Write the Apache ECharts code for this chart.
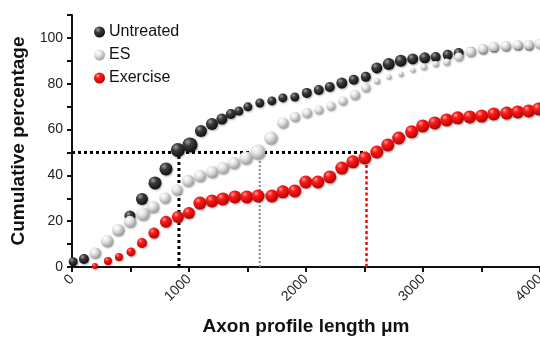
<!DOCTYPE html>
<html>
<head>
<meta charset="utf-8">
<script src="https://cdn.jsdelivr.net/npm/echarts@6/dist/echarts.min.js"></script>
<style>html,body{margin:0;padding:0;background:#fff;overflow:hidden}#c{width:540px;height:337px}</style>
</head>
<body>
<div id="c"></div>
<script>
// ---- data ----
const untreatedX = [10, 102, 200, 300, 400, 495, 598, 709, 803, 905, 1008, 1102, 1196, 1281, 1358, 1426, 1503, 1605, 1708, 1802, 1904, 2007, 2109, 2203, 2306, 2408, 2511, 2605, 2707, 2810, 2912, 3015, 3108, 3211, 3305, 3407, 3510, 3604, 3706, 3809, 3903];
const untreatedY = [2.3, 3.5, 6.5, 11.5, 16.5, 22.3, 29.7, 36.7, 42.8, 51.1, 53.3, 59.4, 62.4, 64.6, 66.8, 68.1, 69.9, 71.6, 72.5, 73.8, 74.2, 76.0, 77.3, 78.6, 80.3, 81.7, 83.0, 86.9, 88.6, 90.0, 90.8, 91.3, 91.7, 92.6, 93.4, 94.3, 94.8, 95.6, 96.1, 96.5, 96.5];
const untreatedN = [9, 10, 8, 8, 8, 11, 12, 13, 13, 14, 15, 12, 12, 11, 10, 9, 9, 9, 9, 9, 9, 10, 10, 10, 11, 10, 10, 11, 12, 12, 11, 11, 10, 10, 10, 8, 8, 8, 8, 8, 8];

const esX = [196, 299, 393, 495, 606, 692, 794, 897, 991, 1093, 1196, 1289, 1383, 1486, 1588, 1699, 1802, 1904, 2007, 2109, 2212, 2314, 2417, 2511, 2605, 2707, 2810, 2912, 3006, 3108, 3202, 3305, 3407, 3510, 3604, 3706, 3809, 3903, 3997];
const esY = [6.1, 11.4, 16.2, 19.7, 23.1, 26.2, 30.1, 33.6, 37.6, 39.7, 41.5, 43.2, 45.4, 47.6, 50.2, 56.3, 62.9, 65.5, 67.2, 68.6, 70.3, 72.5, 75.1, 78.2, 81.2, 83.0, 84.3, 86.0, 87.3, 88.6, 89.5, 91.7, 93.9, 95.2, 96.1, 96.5, 96.9, 96.9, 97.4];
const esN = [11, 12, 12, 12, 13, 12, 11, 11, 12, 12, 12, 12, 12, 13, 15, 13, 11, 10, 10, 9, 9, 9, 10, 9, 6, 5, 5, 5, 6, 6, 7, 9, 10, 10, 10, 10, 10, 10, 10];

const exerciseX = [196, 307, 401, 504, 598, 700, 803, 905, 999, 1093, 1196, 1289, 1392, 1494, 1590, 1708, 1802, 1904, 1998, 2101, 2203, 2306, 2400, 2502, 2605, 2699, 2792, 2903, 2997, 3100, 3202, 3296, 3399, 3501, 3604, 3715, 3809, 3903, 3988];
const exerciseY = [0.4, 2.6, 4.4, 6.6, 10.5, 14.8, 19.7, 21.8, 23.6, 27.9, 28.8, 29.7, 30.6, 30.6, 31.0, 31.0, 32.8, 33.2, 37.1, 37.1, 39.3, 43.2, 45.9, 47.6, 50.2, 53.3, 56.3, 59.0, 61.6, 62.9, 64.2, 65.1, 65.5, 65.9, 66.8, 67.2, 67.7, 68.1, 69.0];
const exerciseN = [6, 8, 8, 9, 10, 11, 12, 12, 12, 13, 13, 13, 13, 13, 13, 13, 13, 13, 13, 13, 13, 13, 13, 13, 13, 13, 13, 13, 13, 13, 13, 13, 13, 13, 13, 13, 13, 13, 13];

// median (50%) reference values
const medianLevel = 50;
const medianUntreated = 914;
const medianES = 1605;
const medianExercise = 2517;

const xTicks = [0, 1000, 2000, 3000, 4000];
const yTicks = [0, 20, 40, 60, 80, 100];
const seriesNames = ['Untreated', 'ES', 'Exercise'];

// ---- build ----
function pts(xs, ys, ns) { return xs.map((x, i) => [x, ys[i], ns[i]]); }
const G = echarts.graphic.RadialGradient;
const grad = {
  Untreated: new G(0.35, 0.3, 0.75, [{offset: 0, color: '#a0a0a0'}, {offset: 0.35, color: '#3c3c3c'}, {offset: 1, color: '#0c0c0c'}]),
  ES: new G(0.35, 0.3, 0.75, [{offset: 0, color: '#ffffff'}, {offset: 0.4, color: '#e4e4e4'}, {offset: 1, color: '#999999'}]),
  Exercise: new G(0.35, 0.3, 0.75, [{offset: 0, color: '#ffa0a0'}, {offset: 0.3, color: '#ff1a1a'}, {offset: 1, color: '#b00000'}])
};
function bubble(name, data) {
  return {
    name, type: 'scatter', data,
    symbolSize: v => v[2],
    itemStyle: {color: grad[name], opacity: 1, shadowBlur: 2, shadowColor: 'rgba(0,0,0,0.35)', shadowOffsetX: 1, shadowOffsetY: 1},
    emphasis: {disabled: true}, z: 3
  };
}
function ref(data, color, width, dash) {
  return {
    type: 'line', data, symbol: 'none', silent: true, z: 2,
    lineStyle: {color, width, type: dash, cap: 'butt'}
  };
}
const font = '"Liberation Sans", Arial, sans-serif';
const chart = echarts.init(document.getElementById('c'), null, {renderer: 'canvas'});
chart.setOption({
  animation: false,
  backgroundColor: '#fff',
  grid: {left: 72, right: 0, top: 15, bottom: 70, containLabel: false, outerBoundsMode: 'none'},
  legend: {
    data: seriesNames.map(n => ({name: n, icon: 'circle'})),
    orient: 'vertical', left: 89, top: 19, itemWidth: 11, itemHeight: 11, itemGap: 7,
    textStyle: {fontFamily: font, fontSize: 16, lineHeight: 16, color: '#111', padding: [0, 0, 0, -1]}
  },
  xAxis: {
    type: 'value', min: 0, max: 4000, interval: 500,
    name: 'Axon profile length \u03bcm', nameLocation: 'middle', nameGap: 50,
    nameTextStyle: {fontFamily: font, fontSize: 19, fontWeight: 'bold', color: '#111'},
    axisLine: {lineStyle: {color: '#111', width: 2}},
    axisTick: {show: true, inside: false, length: 5, lineStyle: {color: '#111', width: 2}},
    axisLabel: {rotate: 45, fontFamily: font, fontSize: 14, color: '#222', margin: 10,
      formatter: v => xTicks.includes(v) ? String(v) : ''},
    splitLine: {show: false}
  },
  yAxis: {
    type: 'value', min: 0, max: 110, interval: 10,
    name: 'Cumulative percentage', nameLocation: 'middle', nameGap: 35,
    nameTextStyle: {fontFamily: font, fontSize: 19, fontWeight: 'bold', color: '#111'},
    axisLine: {show: true, lineStyle: {color: '#111', width: 2}},
    axisTick: {show: true, inside: false, length: 5, lineStyle: {color: '#111', width: 2}},
    axisLabel: {fontFamily: font, fontSize: 14, color: '#222', margin: 9,
      formatter: v => yTicks.includes(v) ? String(v) : ''},
    splitLine: {show: false}
  },
  series: [
    ref([[0, medianLevel], [medianExercise, medianLevel]], '#000', 3, [3, 3]),
    ref([[medianUntreated, 0], [medianUntreated, medianLevel]], '#000', 3, [3, 3]),
    ref([[medianES, 0], [medianES, medianLevel]], '#8a8a8a', 2, [2, 2]),
    ref([[medianExercise, 0], [medianExercise, medianLevel]], '#ff0000', 2.5, [3, 2.5]),
    bubble('Untreated', pts(untreatedX, untreatedY, untreatedN)),
    bubble('ES', pts(esX, esY, esN)),
    bubble('Exercise', pts(exerciseX, exerciseY, exerciseN))
  ]
});
</script>
</body>
</html>
